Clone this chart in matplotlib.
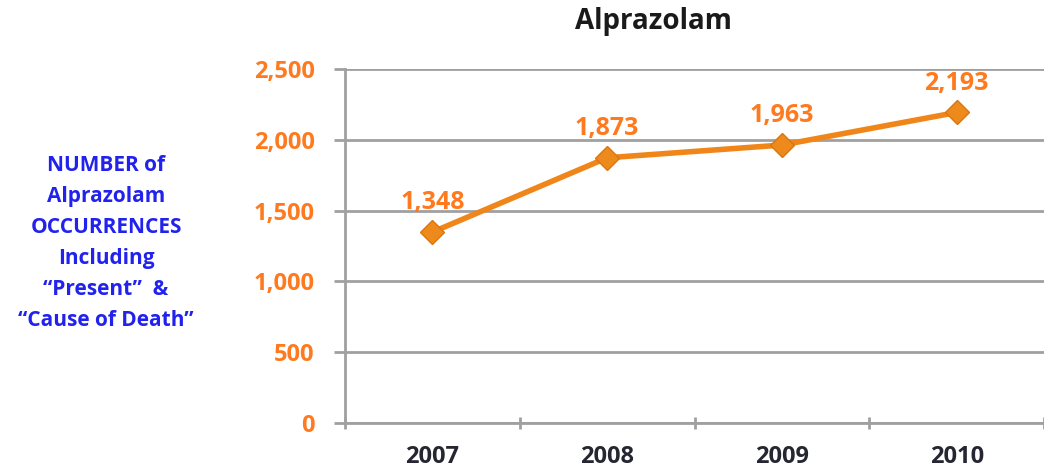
import matplotlib
matplotlib.use("Agg")
import matplotlib.pyplot as plt
from matplotlib.ticker import FuncFormatter

years = ["2007", "2008", "2009", "2010"]
occurrences = [1348, 1873, 1963, 2193]
y_ticks = [0, 500, 1000, 1500, 2000, 2500]
title = "Alprazolam"
ylabel = 'NUMBER of\nAlprazolam\nOCCURRENCES\nIncluding\n\u201cPresent\u201d  &\n\u201cCause of Death\u201d'

FONT = ["Open Sans", "DejaVu Sans"]
plt.rcParams['font.family'] = FONT

W, H = 1044, 471
fig = plt.figure(figsize=(W / 100, H / 100), dpi=100)
left, right, top, bottom = 345, 1044, 69, 423
ax = fig.add_axes([left / W, (H - bottom) / H, (right - left) / W, (bottom - top) / H])

orange_line = "#F0861A"
orange_text = "#FF7A1E"
grid_col = "#A0A0A0"

x = list(range(len(years)))
ax.plot(x, occurrences, color=orange_line, lw=4, marker="D", ms=12,
        mfc="#EE8A1C", mec="#D9760F", mew=1, zorder=3, clip_on=False)
for xi, v in zip(x, occurrences):
    ax.annotate(f"{v:,}", (xi, v), xytext=(0, 21), textcoords="offset points",
                ha="center", va="center", color=orange_text, fontsize=18,
                fontweight="bold")

ax.set_ylim(0, 2500)
ax.set_yticks(y_ticks)
ax.yaxis.set_major_formatter(FuncFormatter(lambda v, p: f"{int(v):,}"))
spacing = 178.3
ax.set_xlim(-0.5, -0.5 + (right - left) / spacing)
ax.set_xticks([i - 0.5 for i in range(5)])
ax.set_xticklabels([])
ax.set_xticks(x, minor=True)
ax.set_xticklabels(years, minor=True)
ax.tick_params(axis="x", which="minor", length=0, pad=16, labelsize=17,
               labelcolor="#262633")
for lab in ax.get_xticklabels(minor=True):
    lab.set_fontweight("bold")
ax.tick_params(axis="x", which="major", length=8, width=2, color=grid_col, direction="inout")
ax.tick_params(axis="y", length=8, width=2, color=grid_col, pad=14, labelsize=17,
               labelcolor=orange_text)
for lab in ax.get_yticklabels():
    lab.set_fontweight("bold")

ax.grid(axis="y", color=grid_col, lw=2)
ax.set_axisbelow(True)
for s in ["top", "right"]:
    ax.spines[s].set_visible(False)
for s in ["left", "bottom"]:
    ax.spines[s].set_color(grid_col)
    ax.spines[s].set_linewidth(2)

fig.text(653 / W, 1 - 22 / H, title, ha="center", va="center", fontsize=20,
         fontweight="bold", color="#1a1a1a")
fig.text(106 / W, 1 - 243 / H, ylabel, ha="center", va="center", fontsize=15,
         fontweight="bold", color="#2222EE", linespacing=1.62)

fig.savefig("out.png", dpi=100)
